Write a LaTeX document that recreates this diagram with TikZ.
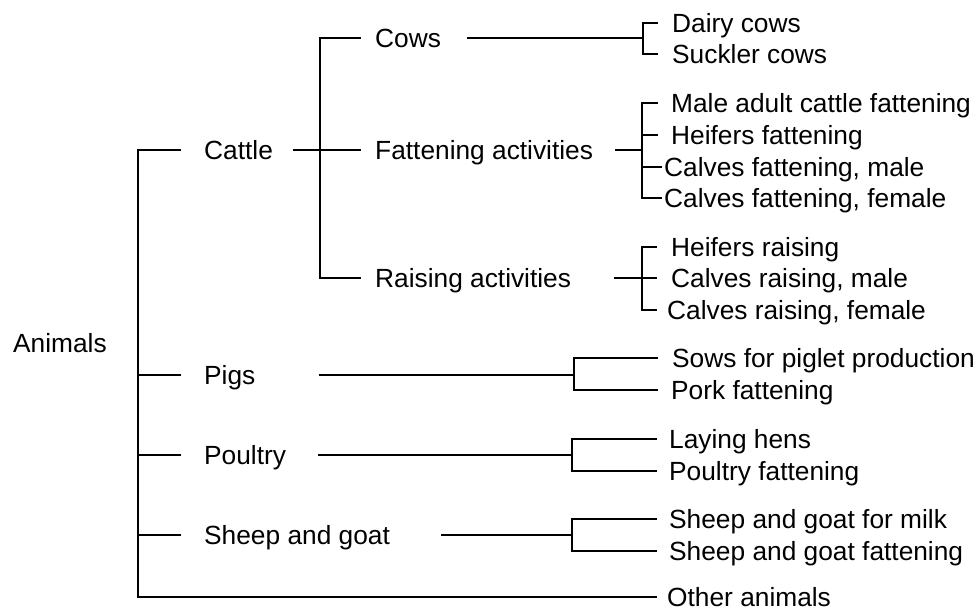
\documentclass[tikz,border=0pt]{standalone}
\usepackage{fontspec}
\setmainfont{Liberation Sans}
\begin{document}
\begin{tikzpicture}[x=1pt,y=-1pt,
  lbl/.style={anchor=west,inner sep=0pt,text height=18.8pt,text depth=0pt,
    font=\fontsize{26.3}{31}\selectfont},
  link/.style={line width=2.2pt,black}]
\useasboundingbox[fill=white] (0,0) rectangle (978,610);

% labels, level 0 and 1
\node[lbl] (animals) at (13,343) {Animals};
\node[lbl] (cattle)  at (204,150) {Cattle};
\node[lbl] (pigs)    at (204,375) {Pigs};
\node[lbl] (poultry) at (204,455) {Poultry};
\node[lbl] (sheep)   at (204,535) {Sheep and goat};

% cattle sub-groups
\node[lbl] (cows)    at (375,38)  {Cows};
\node[lbl] (fatt)    at (375,150) {Fattening activities};
\node[lbl] (raising) at (375,278) {Raising activities};

% leaves
\node[lbl] (dairy)   at (672,23)  {Dairy cows};
\node[lbl] (suckler) at (672,54)  {Suckler cows};
\node[lbl] (male)    at (671,103) {Male adult cattle fattening};
\node[lbl] (heifers) at (671,135) {Heifers fattening};
\node[lbl] (cfm)     at (664,167) {Calves fattening, male};
\node[lbl] (cff)     at (664,198) {Calves fattening, female};
\node[lbl] (hr)      at (671,247) {Heifers raising};
\node[lbl] (crm)     at (671,278) {Calves raising, male};
\node[lbl] (crf)     at (667,310) {Calves raising, female};
\node[lbl] (sows)    at (672,358) {Sows for piglet production};
\node[lbl] (pork)    at (671,390) {Pork fattening};
\node[lbl] (laying)  at (669,439) {Laying hens};
\node[lbl] (pfat)    at (669,471) {Poultry fattening};
\node[lbl] (smilk)   at (669,519) {Sheep and goat for milk};
\node[lbl] (sfat)    at (669,551) {Sheep and goat fattening};
\node[lbl] (other)   at (667,597) {Other animals};

% bracket spines
\coordinate (rootspine) at (138,597);
\coordinate (cattlebr)  at (320,150);
\coordinate (cowsbr)    at (643,38);
\coordinate (fattbr)    at (642,150);
\coordinate (raisbr)    at (642,278);
\coordinate (pigsbr)    at (574,375);
\coordinate (poulbr)    at (572,455);
\coordinate (sheepbr)   at (572,535);

% root bracket
\draw[link] ([xshift=-23pt]cattle.west) -| (rootspine) -- ([xshift=-10pt]other.west);
\draw[link] ([xshift=-23pt]pigs.west) -- (pigs.west -| rootspine);
\draw[link] ([xshift=-23pt]poultry.west) -- (poultry.west -| rootspine);
\draw[link] ([xshift=-23pt]sheep.west) -- (sheep.west -| rootspine);

% cattle bracket
\draw[link] ([xshift=20pt]cattle.east) -- ([xshift=-14pt]fatt.west);
\draw[link] ([xshift=-14pt]cows.west) -- (cows.west -| cattlebr)
  -- (raising.west -| cattlebr) -- ([xshift=-14pt]raising.west);

% cows
\draw[link] ([xshift=26pt]cows.east) -- (cowsbr);
\draw[link] ([xshift=-14pt]dairy.west) -- (dairy.west -| cowsbr)
  -- (suckler.west -| cowsbr) -- ([xshift=-14pt]suckler.west);

% fattening activities
\draw[link] ([xshift=22pt]fatt.east) -- (fattbr);
\draw[link] ([xshift=-13pt]male.west) -- (male.west -| fattbr)
  -- (cff.west -| fattbr) -- ([xshift=-2pt]cff.west);
\draw[link] ([xshift=-13pt]heifers.west) -- (heifers.west -| fattbr);
\draw[link] ([xshift=-2pt]cfm.west) -- (cfm.west -| fattbr);

% raising activities
\draw[link] ([xshift=43pt]raising.east) -- (raisbr);
\draw[link] ([xshift=-14pt]hr.west) -- (hr.west -| raisbr)
  -- (crf.west -| raisbr) -- ([xshift=-10pt]crf.west);
\draw[link] ([xshift=-14pt]crm.west) -- (crm.west -| raisbr);

% pigs
\draw[link] ([xshift=63pt]pigs.east) -- (pigsbr);
\draw[link] ([xshift=-14pt]sows.west) -- (sows.west -| pigsbr)
  -- (pork.west -| pigsbr) -- ([xshift=-13pt]pork.west);

% poultry
\draw[link] ([xshift=32pt]poultry.east) -- (poulbr);
\draw[link] ([xshift=-12pt]laying.west) -- (laying.west -| poulbr)
  -- (pfat.west -| poulbr) -- ([xshift=-12pt]pfat.west);

% sheep and goat
\draw[link] ([xshift=51pt]sheep.east) -- (sheepbr);
\draw[link] ([xshift=-12pt]smilk.west) -- (smilk.west -| sheepbr)
  -- (sfat.west -| sheepbr) -- ([xshift=-12pt]sfat.west);
\end{tikzpicture}
\end{document}
